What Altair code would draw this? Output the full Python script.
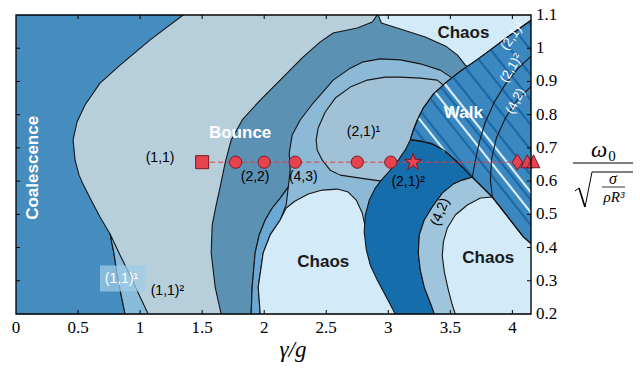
import altair as alt
import numpy as np
import pandas as pd

# ---------------- data: region boundaries (gamma/g , omega0 units) ----------------
coal_x = [1.484, 1.347, 1.081, 0.839, 0.677, 0.556, 0.492, 0.46, 0.476, 0.508, 0.54, 0.605, 0.677,
          0.758, 0.79, 0.815, 0.847, 0.879, 0.895, -0.3, -0.3]
coal_y = [1.139, 1.1, 1.025, 0.949, 0.895, 0.829, 0.778, 0.724, 0.663, 0.618, 0.591, 0.543, 0.492,
          0.441, 0.381, 0.320, 0.257, 0.2, 0.152, 0.152, 1.139]

sliver_x = [0.758, 0.79, 0.815, 0.847, 0.879, 0.895, 1.081, 1.065, 1.0, 0.919, 0.839]
sliver_y = [0.441, 0.381, 0.320, 0.257, 0.2, 0.152, 0.152, 0.2, 0.251, 0.317, 0.377]

steel_x = [1.669, 1.653, 1.605, 1.573, 1.581, 1.613, 1.645, 1.685, 1.734, 1.823, 1.968, 2.129, 2.306,
           2.452, 2.556, 2.75, 2.871, 2.911, 2.919, 4.71, 4.71]
steel_y = [0.152, 0.2, 0.281, 0.384, 0.468, 0.528, 0.582, 0.654, 0.724, 0.784, 0.844, 0.904, 0.971,
           1.019, 1.046, 1.061, 1.079, 1.1, 1.13, 1.13, 0.152]

chaos_top_x = [2.911, 2.919, 2.944, 3.097, 3.298, 3.46, 3.556, 3.621, 3.823, 4.71, 4.71]
chaos_top_y = [1.13, 1.1, 1.076, 1.058, 1.034, 1.007, 0.98, 0.949, 0.904, 0.904, 1.13]

band43_x = [1.887, 1.895, 1.903, 1.927, 1.96, 2.008, 2.065, 2.129, 2.194, 2.21, 2.202, 2.226, 2.29,
            2.395, 2.556, 2.694, 2.798, 2.935, 3.097, 3.258, 3.419, 3.516, 3.742, 3.742, 3.5]
band43_y = [0.152, 0.2, 0.281, 0.384, 0.438, 0.483, 0.519, 0.549, 0.582, 0.633, 0.685, 0.739, 0.784,
            0.835, 0.904, 0.94, 0.959, 0.968, 0.965, 0.953, 0.934, 0.91, 0.91, 0.603, 0.152]

strip_x = [1.887, 1.895, 1.903, 1.927, 1.96, 2.008, 2.065, 2.129, 2.194,
           2.177, 2.129, 2.048, 1.992, 1.952, 1.968, 1.968]
strip_y = [0.152, 0.2, 0.281, 0.384, 0.438, 0.483, 0.519, 0.549, 0.582,
           0.528, 0.483, 0.438, 0.384, 0.281, 0.2, 0.152]

chaos_mid_x = [1.968, 1.968, 1.952, 1.992, 2.048, 2.129, 2.177, 2.25, 2.355, 2.468, 2.589, 2.677,
               2.742, 2.79, 2.823, 2.976, 3.097]
chaos_mid_y = [0.152, 0.2, 0.281, 0.384, 0.438, 0.483, 0.519, 0.54, 0.561, 0.573, 0.576, 0.567,
               0.543, 0.504, 0.447, 0.332, 0.152]

inner21_x = [2.944, 2.774, 2.613, 2.532, 2.468, 2.427, 2.419, 2.435, 2.492, 2.573, 2.694, 2.831,
             2.976, 3.097, 3.258, 3.395, 3.444, 3.661, 3.661, 3.097]
inner21_y = [0.600, 0.609, 0.618, 0.633, 0.663, 0.694, 0.724, 0.76, 0.808, 0.85, 0.883, 0.904,
             0.913, 0.913, 0.91, 0.904, 0.889, 0.874, 0.663, 0.588]

dark_x = [3.081, 3.056, 2.984, 2.911, 2.855, 2.823, 2.806, 2.815, 2.847, 2.895, 2.944, 3.016, 3.081,
          3.137, 3.177, 3.258, 3.355, 3.444, 3.54, 3.621, 3.677, 3.597, 3.524, 3.435, 3.355, 3.29,
          3.25, 3.242, 3.258, 3.29, 3.339, 3.371, 3.387]
dark_y = [0.152, 0.2, 0.251, 0.302, 0.347, 0.393, 0.447, 0.498, 0.543, 0.579, 0.603, 0.633, 0.663,
          0.694, 0.724, 0.721, 0.712, 0.694, 0.663, 0.633, 0.612, 0.603, 0.591, 0.564, 0.522, 0.483,
          0.438, 0.384, 0.332, 0.281, 0.233, 0.2, 0.152]

band42_x = [3.677, 3.839, 4.089, 4.153, 4.71, 4.71, 3.387, 3.371, 3.339, 3.29, 3.258, 3.242, 3.25,
            3.29, 3.355, 3.435, 3.524, 3.597]
band42_y = [0.612, 0.552, 0.432, 0.411, 0.393, 0.152, 0.152, 0.2, 0.233, 0.281, 0.332, 0.384, 0.438,
            0.483, 0.522, 0.564, 0.591, 0.603]

chaos_rt_x = [3.839, 3.742, 3.637, 3.54, 3.476, 3.444, 3.435, 3.452, 3.484, 3.516, 3.54, 3.548,
              4.71, 4.71, 4.153, 4.089]
chaos_rt_y = [0.552, 0.549, 0.528, 0.498, 0.459, 0.417, 0.375, 0.326, 0.272, 0.227, 0.2, 0.152,
              0.152, 0.393, 0.411, 0.432]

walk_x = [3.177, 3.202, 3.234, 3.282, 3.363, 3.468, 3.581, 3.702, 3.823, 3.984, 4.153, 4.266, 4.71,
          4.71, 4.153, 4.089, 3.839, 3.677, 3.621, 3.54, 3.444, 3.355, 3.258]
walk_y = [0.724, 0.754, 0.784, 0.82, 0.862, 0.898, 0.931, 0.962, 0.995, 1.04, 1.085, 1.115, 1.115,
          0.393, 0.411, 0.432, 0.552, 0.612, 0.633, 0.663, 0.694, 0.712, 0.721]

arc2_x = [3.677, 3.702, 3.734, 3.782, 3.855, 3.944, 4.048, 4.153, 4.266]
arc2_y = [0.612, 0.663, 0.718, 0.778, 0.838, 0.892, 0.94, 0.977, 1.01]
arc3_x = [3.839, 3.823, 3.831, 3.871, 3.944, 4.04, 4.153, 4.266]
arc3_y = [0.552, 0.603, 0.663, 0.73, 0.79, 0.844, 0.886, 0.919]

# hatch stripes of the Walk region: where each stripe crosses omega0 = 0.66
dark_stripe_x0 = [3.42, 3.58, 3.74, 3.9, 4.06, 4.22, 4.38, 4.54, 4.7, 4.86, 5.02]
light_stripe_x0 = [3.52, 3.82, 3.95]

# experiment path
path_y = 0.657
square_x = [1.5]
circle_x = [1.77, 2.0, 2.25, 2.75, 3.02]
star_x = [3.2]
diamond_x = [4.04]
triangle_x = [4.12, 4.17]

x_ticks = [0.5, 1.0, 1.5, 2.0, 2.5, 3.0, 3.5, 4.0]
y_ticks = [0.3, 0.4, 0.5, 0.6, 0.7, 0.8, 0.9, 1.0]
x_labels = [0, 0.5, 1.0, 1.5, 2.0, 2.5, 3.0, 3.5, 4.0]
y_labels = [0.2, 0.3, 0.4, 0.5, 0.6, 0.7, 0.8, 0.9, 1.0, 1.1]

# ---------------- styling ----------------
W, H = 515, 299
SANS = "Liberation Sans"
SERIF = "Liberation Serif"
C_COAL = "#468dbf"
C_BOUNCE = "#b7cedb"
C_SLIVER = "#88bbd9"
C_STEEL = "#5b91b3"
C_43 = "#8cb9d5"
C_21 = "#a1c1d6"
C_STRIP = "#6ba8d3"
C_CHAOS = "#d3ebf8"
C_DARK = "#156dac"
C_42 = "#9fc5dd"
C_WALK = "#3b88c0"
LINE = "#151515"

XS = alt.Scale(domain=[0, 4.15], nice=False, zero=False)
YS = alt.Scale(domain=[0.2, 1.1], nice=False, zero=False)


def ex():
    return alt.X("x:Q", scale=XS, axis=None)


def ey():
    return alt.Y("y:Q", scale=YS, axis=None)


def poly(xs, ys, fill=None, sw=1.1):
    xs = list(xs) + [xs[0]]
    ys = list(ys) + [ys[0]]
    df = pd.DataFrame({"x": xs, "y": ys, "i": range(len(xs))})
    kw = dict(stroke=LINE, strokeWidth=sw, clip=True, strokeJoin="round")
    if fill is not None:
        kw["fill"] = fill
    return alt.Chart(df).mark_line(**kw).encode(x=ex(), y=ey(), order="i:Q")


def openline(xs, ys, sw=1.1):
    df = pd.DataFrame({"x": xs, "y": ys, "i": range(len(xs))})
    return alt.Chart(df).mark_line(stroke=LINE, strokeWidth=sw, clip=True).encode(
        x=ex(), y=ey(), order="i:Q")


def inside(px, py, vx, vy):
    res = np.zeros(len(px), bool)
    n = len(vx)
    j = n - 1
    for i in range(n):
        xi, yi, xj, yj = vx[i], vy[i], vx[j], vy[j]
        with np.errstate(divide="ignore", invalid="ignore"):
            xc = (xj - xi) * (py - yi) / (yj - yi) + xi
        cond = ((yi > py) != (yj > py)) & (px < xc)
        res ^= cond
        j = i
    return res


def stripes(x0s, slope=-0.47, yref=0.66):
    rows = []
    t = np.linspace(2.8, 5.4, 5201)
    vx, vy = np.array(walk_x), np.array(walk_y)
    for x0 in x0s:
        yy = yref + slope * (t - x0)
        ins = inside(t, yy, vx, vy).astype(int)
        edges = np.flatnonzero(np.diff(np.r_[0, ins, 0]))
        for a, b in zip(edges[::2], edges[1::2]):
            rows.append({"x": t[a], "y": yy[a], "x2": t[b - 1], "y2": yy[b - 1]})
    return pd.DataFrame(rows)


def stripe_layer(df, color, sw):
    return alt.Chart(df).mark_rule(stroke=color, strokeWidth=sw, clip=True).encode(
        x=ex(), y=ey(), x2="x2:Q", y2="y2:Q")


def label(x, y, txt, size=14, color="black", weight="normal", angle=0, font=SANS, style="normal"):
    df = pd.DataFrame({"x": [x], "y": [y], "t": [txt]})
    kw = dict(font=font, fontSize=size, color=color, fontWeight=weight, fontStyle=style,
              align="center", baseline="middle")
    if angle:
        kw["angle"] = angle
    return alt.Chart(df).mark_text(**kw).encode(x=ex(), y=ey(), text="t:N")


def markers(xs, shape, size):
    df = pd.DataFrame({"x": xs, "y": [path_y] * len(xs)})
    return alt.Chart(df).mark_point(shape=shape, size=size, filled=True, fill="#e5444f",
                                    stroke="#7d1820", strokeWidth=1, opacity=1).encode(x=ex(), y=ey())


dummy = pd.DataFrame({"a": [0]})


def ptext(px, py, txt, size, style="normal", font=SERIF, align="center"):
    return alt.Chart(dummy).mark_text(font=font, fontSize=size, fontStyle=style, color="black",
                                      align=align, baseline="middle").encode(
        x=alt.value(px - 16), y=alt.value(py - 15), text=alt.value(txt))


def prule(x1, y1, x2, y2, sw=1.0):
    return alt.Chart(dummy).mark_rule(stroke="black", strokeWidth=sw).encode(
        x=alt.value(x1 - 16), y=alt.value(y1 - 15), x2=alt.value(x2 - 16), y2=alt.value(y2 - 15))


layers = [
    poly(coal_x, coal_y, C_COAL),
    poly(sliver_x, sliver_y, C_SLIVER),
    poly(steel_x, steel_y, C_STEEL),
    poly(chaos_top_x, chaos_top_y, C_CHAOS),
    poly(band43_x, band43_y, C_43),
    poly(strip_x, strip_y, C_STRIP),
    poly(chaos_mid_x, chaos_mid_y, C_CHAOS),
    poly(inner21_x, inner21_y, C_21),
    poly(dark_x, dark_y, C_DARK),
    poly(band42_x, band42_y, C_42),
    poly(chaos_rt_x, chaos_rt_y, C_CHAOS),
    poly(walk_x, walk_y, C_WALK),
    stripe_layer(stripes(dark_stripe_x0), "#1c68a8", 2.2),
    stripe_layer(stripes(light_stripe_x0), "#d6edf9", 2.2),
    poly(walk_x, walk_y),
    openline(arc2_x, arc2_y),
    openline(arc3_x, arc3_y),
]

# (1,1)^1 highlight box
box = pd.DataFrame({"x": [0.677], "x2": [1.04], "y": [0.268], "y2": [0.346]})
layers.append(alt.Chart(box).mark_rect(fill="#9dcbe6", opacity=0.75).encode(
    x=ex(), x2="x2:Q", y=ey(), y2="y2:Q"))

# region labels
layers += [
    label(0.137, 0.64, "Coalescence", 17, "white", "bold", angle=270),
    label(1.806, 0.745, "Bounce", 17, "white", "bold"),
    label(3.605, 1.046, "Chaos", 17, "#1a1a1a", "bold"),
    label(2.476, 0.356, "Chaos", 17, "#1a1a1a", "bold"),
    label(3.806, 0.368, "Chaos", 17, "#1a1a1a", "bold"),
    label(3.605, 0.805, "Walk", 17, "white", "bold"),
    label(1.161, 0.669, "(1,1)", 14),
    label(1.927, 0.613, "(2,2)", 14),
    label(2.315, 0.613, "(4,3)", 14),
    label(2.80, 0.748, "(2,1)¹", 14),
    label(3.16, 0.597, "(2,1)²", 14),
    label(3.419, 0.507, "(4,2)", 14, angle=292),
    label(0.85, 0.306, "(1,1)¹", 14, "white"),
    label(1.22, 0.268, "(1,1)²", 14),
    label(4.0, 1.037, "(2,1)¹", 13, "white", angle=305),
    label(3.99, 0.94, "(2,1)²", 13, "white", angle=300),
    label(4.025, 0.841, "(4,2)", 13, "white", angle=298),
]

# experiment path
path = pd.DataFrame({"x": [1.5], "x2": [4.15], "y": [path_y]})
layers.append(alt.Chart(path).mark_rule(stroke="#d8404b", strokeWidth=1, strokeDash=[5, 3],
                                        clip=True).encode(x=ex(), x2="x2:Q", y=ey()))
STAR = "M0,-1L0.2245,-0.309L0.951,-0.309L0.363,0.118L0.588,0.809L0,0.382L-0.588,0.809L-0.363,0.118L-0.951,-0.309L-0.2245,-0.309Z"
DIAM = "M0,-1L0.65,0L0,1L-0.65,0Z"
TRI = "M0,-1L0.85,0.75L-0.85,0.75Z"
layers += [
    markers(square_x, "square", 169),
    markers(circle_x, "circle", 150),
    markers(star_x, STAR, 330),
    markers(diamond_x, DIAM, 256),
    markers(triangle_x, TRI, 220),
]

# frame and inward ticks
layers.append(alt.Chart(dummy).mark_rect(fill="transparent", stroke="black", strokeWidth=1.3).encode(
    x=alt.value(0), x2=alt.value(W), y=alt.value(0), y2=alt.value(H)))
xt = pd.DataFrame({"x": x_ticks})
yt = pd.DataFrame({"y": y_ticks})
layers += [
    alt.Chart(xt).mark_rule(stroke="black", strokeWidth=1).encode(x=ex(), y=alt.value(H), y2=alt.value(H - 4)),
    alt.Chart(xt).mark_rule(stroke="black", strokeWidth=1).encode(x=ex(), y=alt.value(0), y2=alt.value(4)),
    alt.Chart(yt).mark_rule(stroke="black", strokeWidth=1).encode(y=ey(), x=alt.value(0), x2=alt.value(4)),
    alt.Chart(yt).mark_rule(stroke="black", strokeWidth=1).encode(y=ey(), x=alt.value(W), x2=alt.value(W - 4)),
]

# tick labels (drawn through the same scales)
xl = pd.DataFrame({"x": x_labels, "t": [f"{v:g}" for v in x_labels]})
yl = pd.DataFrame({"y": y_labels, "t": [f"{v:g}" for v in y_labels]})
layers += [
    alt.Chart(xl).mark_text(font=SERIF, fontSize=17, color="black", align="center",
                            baseline="middle").encode(x=ex(), y=alt.value(H + 14), text="t:N"),
    alt.Chart(yl).mark_text(font=SERIF, fontSize=17, color="black", align="left",
                            baseline="middle").encode(y=ey(), x=alt.value(W + 5), text="t:N"),
]

# axis titles
layers += [
    ptext(293, 350, "γ/g", 23, "italic"),
    ptext(599, 150, "ω", 23, "italic"),
    ptext(612, 156, "0", 15),
    prule(573, 163, 633, 163, 1.0),
    prule(575, 191, 579, 188, 1.0),
    prule(579, 188, 585, 207, 1.6),
    prule(585, 207, 592, 172, 1.0),
    prule(592, 172, 633, 172, 1.0),
    ptext(613, 179, "σ", 16, "italic"),
    prule(602, 187, 625, 187, 0.8),
    ptext(614, 197, "ρR³", 15, "italic"),
]

chart = alt.layer(*layers).properties(
    width=W, height=H,
    padding={"left": 16, "top": 15, "right": 109, "bottom": 54},
    autosize=alt.AutoSizeParams(type="none"),
).configure_view(fill=C_BOUNCE, stroke="transparent")

chart.save("out.html", embed_options={"renderer": "svg", "actions": False})
